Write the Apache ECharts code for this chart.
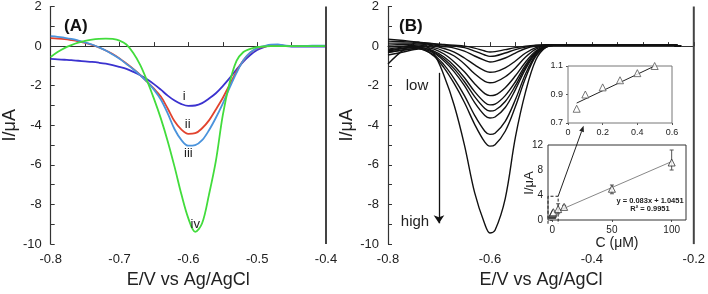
<!DOCTYPE html>
<html>
<head>
<meta charset="utf-8">
<script src="https://cdn.jsdelivr.net/npm/echarts@6/dist/echarts.min.js"></script>
<style>
  html, body { margin: 0; padding: 0; background: #fff; }
  #mychart { width: 708px; height: 294px; }
</style>
</head>
<body>
<div id="mychart"></div>
<script>
"use strict";
const FONT = '"Liberation Sans", Arial, sans-serif';

// ---- panel (A): potential grid and the four voltammograms ----
const potA = [-0.80, -0.79, -0.78, -0.77, -0.76, -0.75, -0.74, -0.73, -0.72, -0.71,
    -0.70, -0.69, -0.68, -0.67, -0.66, -0.65, -0.64, -0.63, -0.62, -0.61,
    -0.60, -0.59, -0.58, -0.57, -0.56, -0.55, -0.54, -0.53, -0.52, -0.51,
    -0.50, -0.49, -0.48, -0.47, -0.46, -0.45, -0.44, -0.43, -0.42, -0.41, -0.40];
const curveI = [-0.65, -0.67, -0.69, -0.71, -0.74, -0.77, -0.80, -0.84, -0.89, -0.96,
    -1.05, -1.15, -1.30, -1.47, -1.68, -1.92, -2.20, -2.50, -2.75, -2.93,
    -3.02, -3.00, -2.88, -2.65, -2.38, -2.02, -1.62, -1.18, -0.78, -0.45,
    -0.20, -0.05, 0.05, 0.06, 0.01, -0.02, -0.02, -0.02, -0.02, -0.02, -0.02];
const curveII = [0.40, 0.38, 0.35, 0.30, 0.24, 0.16, 0.06, -0.07, -0.22, -0.40,
    -0.62, -0.88, -1.15, -1.45, -1.80, -2.15, -2.55, -3.15, -3.80, -4.22,
    -4.43, -4.40, -4.15, -3.75, -3.20, -2.62, -1.95, -1.28, -0.72, -0.33,
    -0.12, -0.03, 0.02, 0.03, 0.01, 0.0, 0.0, 0.0, 0.0, 0.0, 0.0];
const curveIII = [0.50, 0.47, 0.42, 0.36, 0.28, 0.19, 0.08, -0.06, -0.22, -0.42,
    -0.64, -0.90, -1.17, -1.47, -1.80, -2.20, -2.70, -3.40, -4.20, -4.75,
    -5.03, -5.00, -4.75, -4.25, -3.62, -2.90, -2.10, -1.35, -0.72, -0.32,
    -0.10, 0.0, 0.07, 0.08, 0.03, 0.0, 0.0, 0.01, 0.02, 0.02, 0.02];
const curveIV = [-0.55, -0.30, -0.10, 0.05, 0.17, 0.26, 0.33, 0.37, 0.38, 0.36,
    0.28, 0.08, -0.35, -0.95, -1.75, -2.65, -3.65, -4.80, -6.10, -7.50,
    -8.70, -9.38, -8.95, -7.50, -5.80, -3.50, -1.85, -0.75, -0.30, -0.14,
    -0.05, -0.02, 0.0, 0.0, 0.0, 0.0, 0.0, 0.0, 0.0, 0.0, 0.0];
const colorsA = ['#3b32cf', '#e2432e', '#4a93dc', '#42dc3c'];
const tagsA = ['i', 'ii', 'iii', 'iv'];
const tagPotA = [-0.606, -0.601, -0.600, -0.590];
const tagCurA = [-2.52, -3.96, -5.40, -9.00];

// ---- panel (B): concentration series ----
const potB = [-0.80, -0.77, -0.74, -0.71, -0.69, -0.67, -0.65, -0.63, -0.61, -0.60, -0.59,
    -0.57, -0.55, -0.53, -0.51, -0.49, -0.47, -0.40, -0.30, -0.24, -0.225];
const curvesB = [
    [0.35, 0.28, 0.20, 0.12, 0.08, 0.04, 0.0, -0.10, -0.25, -0.30, -0.28, -0.18, -0.08, 0.0, 0.05, 0.07, 0.06, 0.05, 0.05, 0.04, 0.0],
    [0.25, 0.22, 0.18, 0.10, 0.05, 0.0, -0.08, -0.25, -0.45, -0.52, -0.50, -0.35, -0.18, -0.05, 0.03, 0.06, 0.06, 0.05, 0.05, 0.04, 0.0],
    [0.15, 0.15, 0.15, 0.05, -0.02, -0.10, -0.25, -0.50, -0.72, -0.80, -0.77, -0.60, -0.35, -0.12, 0.0, 0.05, 0.06, 0.05, 0.05, 0.04, 0.0],
    [0.05, 0.08, 0.10, 0.0, -0.12, -0.30, -0.60, -0.95, -1.25, -1.32, -1.30, -1.10, -0.75, -0.35, -0.08, 0.03, 0.05, 0.05, 0.05, 0.04, 0.0],
    [-0.05, 0.0, 0.05, -0.08, -0.25, -0.50, -0.90, -1.40, -1.78, -1.85, -1.82, -1.55, -1.10, -0.55, -0.15, 0.02, 0.05, 0.05, 0.05, 0.04, 0.0],
    [-0.15, -0.05, 0.0, -0.15, -0.40, -0.80, -1.30, -1.90, -2.40, -2.50, -2.47, -2.10, -1.50, -0.80, -0.25, 0.0, 0.05, 0.05, 0.05, 0.04, 0.0],
    [-0.25, -0.12, -0.05, -0.25, -0.55, -1.00, -1.60, -2.30, -2.85, -2.97, -2.93, -2.50, -1.80, -0.95, -0.30, 0.0, 0.05, 0.05, 0.05, 0.04, 0.0],
    [-0.20, -0.10, -0.05, -0.30, -0.65, -1.15, -1.80, -2.55, -3.15, -3.28, -3.24, -2.80, -2.00, -1.05, -0.35, -0.02, 0.05, 0.05, 0.05, 0.04, 0.0],
    [-0.33, -0.20, -0.10, -0.35, -0.75, -1.30, -2.00, -2.85, -3.50, -3.63, -3.58, -3.10, -2.20, -1.15, -0.38, -0.03, 0.05, 0.05, 0.05, 0.04, 0.0],
    [-0.45, -0.30, -0.15, -0.45, -0.95, -1.65, -2.50, -3.50, -4.30, -4.46, -4.40, -3.80, -2.70, -1.40, -0.45, -0.05, 0.05, 0.05, 0.05, 0.04, 0.0],
    [-0.30, -0.20, -0.10, -0.50, -1.10, -1.90, -2.85, -3.95, -4.85, -5.05, -4.98, -4.30, -3.05, -1.60, -0.50, -0.05, 0.05, 0.05, 0.05, 0.04, 0.0],
    [-0.90, -0.20, 0.20, -0.40, -1.50, -3.00, -5.00, -7.40, -9.00, -9.44, -9.30, -7.70, -4.60, -2.30, -0.70, -0.05, 0.05, 0.05, 0.05, 0.04, 0.0]
];
const arrowPot = [-0.70, -0.70];
const arrowCur = [-1.35, -8.95];

// ---- inset: low range calibration ----
const lowConc = [0.05, 0.1, 0.2, 0.3, 0.4, 0.5];
const lowCur = [0.80, 0.90, 0.95, 1.00, 1.05, 1.10];
const lowFitConc = [0.05, 0.5];
const lowFitCur = [0.84, 1.10];

// ---- inset: full calibration ----
const allConc = [0.05, 0.1, 0.2, 0.3, 0.4, 0.5, 1, 5, 10, 50, 100];
const allCur = [0.80, 0.90, 0.95, 1.00, 1.05, 1.10, 1.25, 1.75, 2.10, 5.00, 9.20];
const errConc = [5, 10, 50, 100];
const errLow = [1.00, 1.85, 4.20, 8.00];
const errHigh = [2.60, 2.35, 5.60, 11.20];
const fitConc = [0, 100];
const fitCur = [1.05, 9.35];
const zoomBoxConc = [-3.5, -3.5, 5, 5];
const zoomBoxCur = [-0.6, 3.8, 3.8, -0.6];
const fitText = ['y = 0.083x + 1.0451', 'R\u00b2 = 0.9951'];

const zip = (xs, ys) => xs.map((x, i) => [x, ys[i]]);

const container = document.getElementById('mychart');
const myChart = echarts.init(container, null, { renderer: 'canvas' });

const mainLabel = { color: '#222', fontSize: 13, fontFamily: FONT };
const mainLine = { show: true, lineStyle: { color: '#333', width: 1.2 } };
const mainTick = { show: true, inside: true, length: 4, lineStyle: { color: '#333' } };
const nameStyle = { color: '#222', fontSize: 18, fontFamily: FONT };

const series = [];
[curveI, curveII, curveIII, curveIV].forEach((cur, k) => {
    series.push({
        type: 'line', xAxisIndex: 0, yAxisIndex: 0,
        data: zip(potA, cur), smooth: 0.35, showSymbol: false, silent: true,
        lineStyle: { color: colorsA[k], width: 1.8 },
        markPoint: {
            symbol: 'circle', symbolSize: 1, silent: true,
            itemStyle: { color: 'transparent' },
            label: { show: true, position: 'inside', formatter: '{b}', color: '#222', fontSize: 13, fontFamily: FONT },
            data: [{ name: tagsA[k], coord: [tagPotA[k], tagCurA[k]] }]
        }
    });
});
curvesB.forEach((cur, k) => {
    const s = {
        type: 'line', xAxisIndex: 1, yAxisIndex: 1,
        data: zip(potB, cur), smooth: 0.35, showSymbol: false, silent: true,
        lineStyle: { color: '#111', width: 1.4 }
    };
    if (k === 0) {
        s.markLine = {
            silent: true, symbol: ['none', 'arrow'], symbolSize: 8,
            label: { show: false },
            lineStyle: { color: '#111', type: 'solid', width: 1.3 },
            data: [[{ coord: [arrowPot[0], arrowCur[0]] }, { coord: [arrowPot[1], arrowCur[1]] }]]
        };
    }
    series.push(s);
});
// low range inset
series.push({
    type: 'line', xAxisIndex: 2, yAxisIndex: 2, data: zip(lowFitConc, lowFitCur),
    showSymbol: false, silent: true, lineStyle: { color: '#222', width: 1 }, z: 5
});
series.push({
    type: 'scatter', xAxisIndex: 2, yAxisIndex: 2, data: zip(lowConc, lowCur),
    symbol: 'triangle', symbolSize: 7, silent: true, z: 6,
    itemStyle: { color: '#fff', borderColor: '#555', borderWidth: 1 }
});
// full range inset
series.push({
    type: 'line', xAxisIndex: 3, yAxisIndex: 3, data: zip(fitConc, fitCur),
    showSymbol: false, silent: true, lineStyle: { color: '#888', width: 1 }, z: 5
});
series.push({
    type: 'line', xAxisIndex: 3, yAxisIndex: 3, data: zip(zoomBoxConc, zoomBoxCur),
    showSymbol: false, silent: true, clip: false,
    lineStyle: { color: '#222', width: 1, type: [3, 2] }, z: 5
});
series.push({
    type: 'custom', xAxisIndex: 3, yAxisIndex: 3, silent: true, z: 6,
    data: errConc.map((c, i) => [c, errLow[i], errHigh[i]]),
    renderItem(params, api) {
        const top = api.coord([api.value(0), api.value(2)]);
        const bot = api.coord([api.value(0), api.value(1)]);
        const st = { stroke: '#555', lineWidth: 1 };
        return {
            type: 'group', children: [
                { type: 'line', shape: { x1: top[0], y1: top[1], x2: bot[0], y2: bot[1] }, style: st },
                { type: 'line', shape: { x1: top[0] - 2, y1: top[1], x2: top[0] + 2, y2: top[1] }, style: st },
                { type: 'line', shape: { x1: bot[0] - 2, y1: bot[1], x2: bot[0] + 2, y2: bot[1] }, style: st }
            ]
        };
    }
});
series.push({
    type: 'scatter', xAxisIndex: 3, yAxisIndex: 3, data: zip(allConc, allCur),
    symbol: 'triangle', symbolSize: 7, silent: true, z: 7,
    itemStyle: { color: '#fff', borderColor: '#333', borderWidth: 1 }
});

const insetLabel = { color: '#222', fontSize: 9, fontFamily: FONT, margin: 5 };
const insetTick = { show: true, inside: false, length: 2, lineStyle: { color: '#555' } };

const option = {
    backgroundColor: '#fff',
    animation: false,
    grid: [
        { left: 48, top: 6, width: 278, height: 242 },
        { left: 388, top: 6, width: 309, height: 242 },
        { left: 568, top: 66, width: 104, height: 57, show: true, backgroundColor: '#fff', borderColor: '#777', borderWidth: 1, z: 3 },
        { left: 548, top: 145, width: 138, height: 75, show: true, backgroundColor: '#fff', borderColor: '#333', borderWidth: 1, z: 3 }
    ],
    xAxis: [
        {
            gridIndex: 0, type: 'value', min: -0.8, max: -0.4, interval: 0.1,
            axisLine: mainLine, axisTick: mainTick, axisLabel: Object.assign({ margin: 9 }, mainLabel),
            minorTick: { show: true, splitNumber: 2, length: 4, lineStyle: { color: '#333' } },
            splitLine: { show: false },
            name: 'E/V vs Ag/AgCl', nameLocation: 'middle', nameGap: 26, nameTextStyle: nameStyle
        },
        {
            gridIndex: 1, type: 'value', min: -0.8, max: -0.2, interval: 0.2,
            axisLine: mainLine, axisTick: mainTick, axisLabel: Object.assign({ margin: 9 }, mainLabel),
            minorTick: { show: true, splitNumber: 4, length: 4, lineStyle: { color: '#333' } },
            splitLine: { show: false },
            name: 'E/V vs Ag/AgCl', nameLocation: 'middle', nameGap: 26, nameTextStyle: nameStyle
        },
        {
            gridIndex: 2, type: 'value', min: 0, max: 0.6, interval: 0.2,
            axisLine: { show: false }, axisTick: insetTick, axisLabel: insetLabel, splitLine: { show: false }
        },
        {
            gridIndex: 3, type: 'value', min: -3.5, max: 112,
            axisLine: { show: false },
            axisTick: Object.assign({ customValues: [0, 50, 100] }, insetTick),
            axisLabel: Object.assign({ customValues: [0, 50, 100] }, insetLabel, { fontSize: 10 }),
            splitLine: { show: false },
            name: 'C (\u03bcM)', nameLocation: 'middle', nameGap: 8,
            nameTextStyle: { color: '#222', fontSize: 14, fontFamily: FONT, verticalAlign: 'top' }
        }
    ],
    yAxis: [
        {
            gridIndex: 0, type: 'value', min: -10, max: 2, interval: 2,
            axisLine: mainLine, axisTick: mainTick, axisLabel: Object.assign({ margin: 9 }, mainLabel),
            minorTick: { show: true, splitNumber: 2, length: 4, lineStyle: { color: '#333' } },
            splitLine: { show: false },
            name: 'I/\u03bcA', nameLocation: 'middle', nameGap: 31, nameTextStyle: nameStyle
        },
        {
            gridIndex: 1, type: 'value', min: -10, max: 2, interval: 2,
            axisLine: mainLine, axisTick: mainTick, axisLabel: Object.assign({ margin: 9 }, mainLabel),
            minorTick: { show: true, splitNumber: 2, length: 4, lineStyle: { color: '#333' } },
            splitLine: { show: false },
            name: 'I/\u03bcA', nameLocation: 'middle', nameGap: 28, nameTextStyle: nameStyle
        },
        {
            gridIndex: 2, type: 'value', min: 0.7, max: 1.1,
            axisLine: { show: false },
            axisTick: Object.assign({ customValues: [0.7, 0.9, 1.1] }, insetTick),
            axisLabel: Object.assign({ customValues: [0.7, 0.9, 1.1], formatter: v => v.toFixed(1) }, insetLabel),
            splitLine: { show: false }
        },
        {
            gridIndex: 3, type: 'value', min: 0, max: 12, interval: 4,
            axisLine: { show: false }, axisTick: insetTick,
            axisLabel: Object.assign({}, insetLabel, { fontSize: 10 }),
            splitLine: { show: false }
        }
    ],
    graphic: [
        { type: 'text', x: 64, y: 26, style: { text: '(A)', fontSize: 17, fontWeight: 'bold', fontFamily: FONT, fill: '#111', verticalAlign: 'middle' } },
        { type: 'text', x: 399, y: 26, style: { text: '(B)', fontSize: 17, fontWeight: 'bold', fontFamily: FONT, fill: '#111', verticalAlign: 'middle' } },
        { type: 'text', x: 417, y: 86, style: { text: 'low', fontSize: 15, fontFamily: FONT, fill: '#222', align: 'center', verticalAlign: 'middle' } },
        { type: 'text', x: 415, y: 222, style: { text: 'high', fontSize: 15, fontFamily: FONT, fill: '#222', align: 'center', verticalAlign: 'middle' } },
        { type: 'text', x: 650, y: 201, z: 20, style: { text: fitText[0], fontSize: 7.5, fontWeight: 'bold', fontFamily: FONT, fill: '#222', align: 'center', verticalAlign: 'middle' } },
        { type: 'text', x: 650, y: 209, z: 20, style: { text: fitText[1], fontSize: 7.5, fontWeight: 'bold', fontFamily: FONT, fill: '#222', align: 'center', verticalAlign: 'middle' } },
        { type: 'text', x: 529, y: 183, rotation: Math.PI / 2, z: 20, style: { text: 'I/\u03bcA', fontSize: 13, fontFamily: FONT, fill: '#222', align: 'center', verticalAlign: 'middle' } }
    ],
    series
};
myChart.setOption(option);

// right-hand frame lines of both panels (no top line in the reference)
[[0, -0.4], [1, -0.2]].forEach(([g, xr]) => {
    const a = myChart.convertToPixel({ gridIndex: g }, [xr, 2]);
    const b = myChart.convertToPixel({ gridIndex: g }, [xr, -10]);
    option.graphic.push({
        type: 'line', z: 10, shape: { x1: a[0], y1: a[1], x2: b[0], y2: b[1] },
        style: { stroke: '#444', lineWidth: 2 }
    });
});

// arrow from the zoom box of the full-range inset to the low-range inset
const p0 = myChart.convertToPixel({ gridIndex: 3 }, [5, 3.8]);
const p1 = myChart.convertToPixel({ gridIndex: 2 }, [0.09, 0.68]);
const ang = Math.atan2(p1[1] - p0[1], p1[0] - p0[0]);
const hl = 6, hw = 2.5;
const bx = p1[0] - hl * Math.cos(ang), by = p1[1] - hl * Math.sin(ang);
const head = [
    [p1[0], p1[1]],
    [bx + hw * Math.sin(ang), by - hw * Math.cos(ang)],
    [bx - hw * Math.sin(ang), by + hw * Math.cos(ang)]
];
option.graphic.push(
    { type: 'line', z: 20, shape: { x1: p0[0], y1: p0[1], x2: bx, y2: by }, style: { stroke: '#222', lineWidth: 1 } },
    { type: 'polygon', z: 20, shape: { points: head }, style: { fill: '#222' } }
);
myChart.setOption({ graphic: option.graphic });
</script>
</body>
</html>
